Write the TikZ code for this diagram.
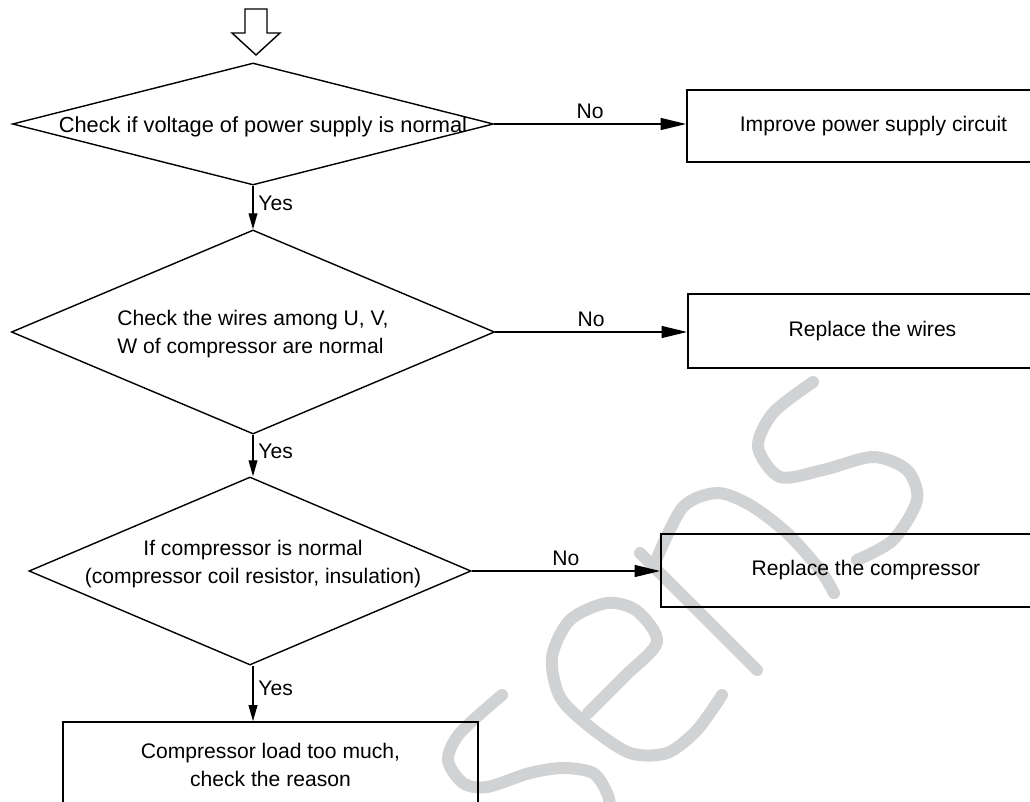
\documentclass[tikz,border=0pt]{standalone}
\usepackage{fontspec}
\setmainfont{Liberation Sans}
\usetikzlibrary{shapes.geometric,arrows.meta}
\definecolor{wmgray}{RGB}{209,210,212}

\begin{document}
\begin{tikzpicture}[x=0.025cm,y=-0.025cm,line width=1pt,
  checknode/.style={draw,diamond,inner sep=0pt},
  asknode/.style={align=center,font=\fontsize{15}{19.5}\selectfont},
  fixnode/.style={draw,line width=1.2pt,align=center,font=\fontsize{15}{19.5}\selectfont},
  tagnode/.style={font=\fontsize{15}{18}\selectfont},
  noarrow/.style={-{Triangle[length=0.64cm,width=0.3cm]}},
  yesarrow/.style={-{Triangle[length=0.4cm,width=0.22cm]}},
  wmline/.style={draw=wmgray,line width=0.3cm,line cap=round,line join=round}]
  \clip (0,0) rectangle (1030,801);
  % watermark
  \draw[wmline] plot[smooth] coordinates {(502,695) (460,733) (448,760) (463,783) (487,787) (530,773) (563,768) (593,773) (607,793) (612,815)};
  \draw[wmline] plot[smooth] coordinates {(588,713) (625,676) (657,642) (637,611) (607,603) (570,620) (552,657) (560,697) (590,727) (630,753) (667,753) (697,730) (722,695)};
  \draw[wmline] (640,553) -- (757,670);
  \draw[wmline] plot[smooth] coordinates {(657,558) (683,507) (717,493) (750,505) (787,533) (820,570) (834,593)};
  \draw[wmline] plot[smooth] coordinates {(813,382) (773,413) (758,447) (780,477) (823,470) (873,457) (907,470) (917,500) (893,540) (857,560)};
  % entry arrow
  \draw (245,9) -- (267,9) -- (267,33) -- (280,33) -- (256,55) -- (232,33) -- (245,33) -- cycle;
  % checks
  \node[checknode,minimum width=12.025cm,minimum height=3.05cm] (q1) at (253,124) {};
  \node[checknode,minimum width=12.075cm,minimum height=5.1cm] (q2) at (253,332) {};
  \node[checknode,minimum width=11.05cm,minimum height=4.7cm] (q3) at (250,571) {};
  \node[asknode,font=\fontsize{15.5}{19.5}\selectfont] (q1t) at (263,127) {Check if voltage of power supply is normal};
  \node[asknode,align=left] (q2t) at (253,334) {Check the wires among U, V,\\W of compressor are normal};
  \node[asknode] (q3t) at (253,564) {If compressor is normal\\(compressor coil resistor, insulation)};
  % actions
  \node[fixnode,minimum width=9.325cm,minimum height=1.8cm] (fix1) at (873.5,126) {Improve power supply circuit};
  \node[fixnode,minimum width=9.225cm,minimum height=1.85cm] (fix2) at (872.5,331) {Replace the wires};
  \node[fixnode,minimum width=10.25cm,minimum height=1.825cm] (fix3) at (866,570.5) {Replace the compressor};
  \node[fixnode,minimum width=10.375cm,minimum height=2.15cm] (fix4) at (270.5,765) {Compressor load too much,\\check the reason};
  % connectors
  \draw[noarrow] (q1.east) -- node[tagnode,above] (no1) {No} (q1.east -| fix1.west);
  \draw[noarrow] (q2.east) -- node[tagnode,above] (no2) {No} (q2.east -| fix2.west);
  \draw[noarrow] (q3.east) -- node[tagnode,above] (no3) {No} (q3.east -| fix3.west);
  \draw[yesarrow] (q1.south) -- node[tagnode,right,pos=0.4] (yes1) {Yes} (q2.north);
  \draw[yesarrow] (q2.south) -- node[tagnode,right,pos=0.4] (yes2) {Yes} (q2.south |- q3.north);
  \draw[yesarrow] (q2.south |- q3.south) -- node[tagnode,right,pos=0.4] (yes3) {Yes} (q2.south |- fix4.north);
\end{tikzpicture}
\end{document}
